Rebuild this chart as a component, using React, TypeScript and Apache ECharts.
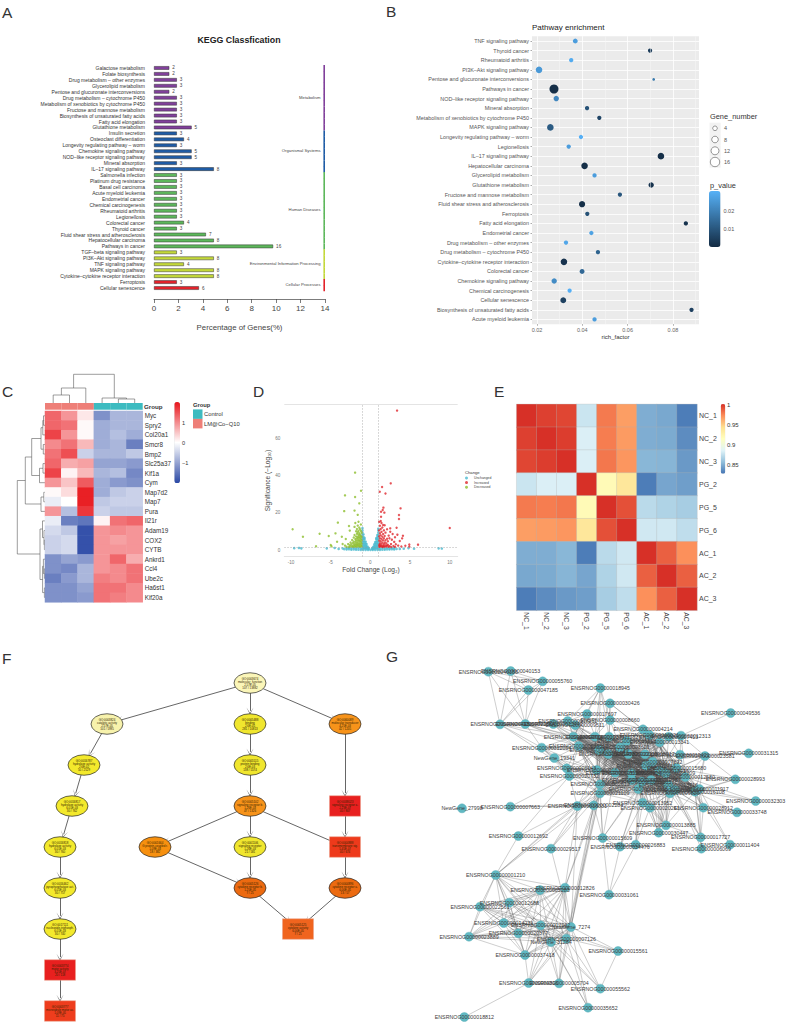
import React, { useEffect, useRef } from "react";
import * as echarts from "echarts";

const FONT = "Liberation Sans";

/* ---------- A: KEGG classification ---------- */
const keggPathways = ["Galactose metabolism","Folate biosynthesis","Drug metabolism – other enzymes","Glycerolipid metabolism","Pentose and glucuronate interconversions","Drug metabolism – cytochrome P450","Metabolism of xenobiotics by cytochrome P450","Fructose and mannose metabolism","Biosynthesis of unsaturated fatty acids","Fatty acid elongation","Glutathione metabolism","Insulin secretion","Osteoclast differentiation","Longevity regulating pathway – worm","Chemokine signaling pathway","NOD–like receptor signaling pathway","Mineral absorption","IL–17 signaling pathway","Salmonella infection","Platinum drug resistance","Basal cell carcinoma","Acute myeloid leukemia","Endometrial cancer","Chemical carcinogenesis","Rheumatoid arthritis","Legionellosis","Colorectal cancer","Thyroid cancer","Fluid shear stress and atherosclerosis","Hepatocellular carcinoma","Pathways in cancer","TGF–beta signaling pathway","PI3K–Akt signaling pathway","TNF signaling pathway","MAPK signaling pathway","Cytokine–cytokine receptor interaction","Ferroptosis","Cellular senescence"];
const keggPercent = [1.25,1.25,1.87,1.87,1.25,1.87,1.87,1.87,1.87,1.87,3.08,1.87,2.45,1.87,3.08,3.08,1.87,4.9,1.87,1.87,1.87,1.87,1.87,1.87,1.87,1.87,2.45,1.87,4.25,4.9,9.75,1.87,4.9,2.45,4.9,4.9,1.87,3.68];
const keggCounts = [2,2,3,3,2,3,3,3,3,3,5,3,4,3,5,5,3,8,3,3,3,3,3,3,3,3,4,3,7,8,16,3,8,4,8,8,3,6];
const keggGroupNames = ["Metabolism","Organismal Systems","Human Diseases","Environmental Information Processing","Cellular Processes"];
const keggGroupSizes = [11,7,13,5,2];
const keggGroupColors = ["#81409B","#1F5CA6","#5DB75B","#C3D83A","#E2222B"];
const keggGroupOf: number[] = keggGroupSizes.flatMap((n, g) => Array(n).fill(g));

/* ---------- B: pathway enrichment ---------- */
const enrichPathways = ["TNF signaling pathway","Thyroid cancer","Rheumatoid arthritis","PI3K–Akt signaling pathway","Pentose and glucuronate interconversions","Pathways in cancer","NOD–like receptor signaling pathway","Mineral absorption","Metabolism of xenobiotics by cytochrome P450","MAPK signaling pathway","Longevity regulating pathway – worm","Legionellosis","IL–17 signaling pathway","Hepatocellular carcinoma","Glycerolipid metabolism","Glutathione metabolism","Fructose and mannose metabolism","Fluid shear stress and atherosclerosis","Ferroptosis","Fatty acid elongation","Endometrial cancer","Drug metabolism – other enzymes","Drug metabolism – cytochrome P450","Cytokine–cytokine receptor interaction","Colorectal cancer","Chemokine signaling pathway","Chemical carcinogenesis","Cellular senescence","Biosynthesis of unsaturated fatty acids","Acute myeloid leukemia"];
const enrichFactor = [.0369,.0699,.0351,.0209,.0715,.0275,.0285,.0421,.0475,.0259,.0394,.034,.0747,.041,.0454,.0704,.0566,.0399,.0422,.0857,.044,.0328,.0469,.0319,.0399,.0276,.0344,.0316,.0882,.0454];
const enrichP = [.026,.004,.029,.025,.018,.001,.021,.009,.006,.011,.03,.026,.001,.001,.026,.002,.01,.001,.009,.002,.027,.028,.013,.002,.014,.022,.03,.005,.005,.026];
const enrichGenes = [4,3,3,8,2,16,5,3,3,8,3,3,8,8,3,5,3,7,3,3,3,3,3,8,4,5,3,6,3,3];
const geneLegend = [4,8,12,16];

/* ---------- C: expression heatmap ---------- */
const heatGenes = ["Myc","Spry2","Col20a1","Smcr8","Bmp2","Slc25a37","Kif1a","Cym","Map7d2","Map7","Pura","Il21r","Adam19","COX2","CYTB","Ankrd1","Ccl4","Ube2c","Ha6st1","Kif20a"];
const heatValues = [
  [1.3,.9,.2,-1.2,-.8,-.8],[1.3,1.2,.05,-.9,-.8,-.8],[1.6,.9,.05,-.9,-.7,-.9],[1,1.2,.6,-.9,-.8,-1.4],
  [1.2,1.5,-.5,-.8,-.8,-.6],[1.3,.7,.8,-1,-1,-1.1],[1.6,.1,.6,-.8,-.7,-1.3],[.9,.5,1.4,-.9,-1.1,-1.2],
  [.05,.3,1.9,-.9,-.6,-.5],[-.2,0,1.9,-.6,-.5,-.5],[.9,-.7,1.7,-.5,-.6,-.6],[-.2,-1.4,-1.5,.1,1.2,1.3],
  [-.4,-.6,-1.9,.9,1,.9],[-.5,-.4,-1.9,.9,.8,.9],[-.5,-.4,-1.9,.9,.9,.9],[-1.2,-1,-1.1,.9,1.3,.7],
  [-1.2,-1.3,-.8,.9,1,1.2],[-1.4,-1.1,-.8,1.1,1,1.2],[-1.2,-1.2,-1,1.2,1.2,1],[-1.2,-1.2,-1.1,1.2,1.1,1],
];
const heatSamples = ["S1","S2","S3","S4","S5","S6"];
const heatGroupNames = ["LM@Co−Q10","Control"];
const heatSampleGroup = [0,0,0,1,1,1];
const heatGroupColors = ["#EE7F78","#3DBBC0"];

/* ---------- D: volcano ---------- */
const volcanoDecreased = [[-1.93,41.8],[-1.18,32],[-3.2,29.5],[-1.93,28.6],[-1.4,25.2],[-3.3,21],[-2,21.3],[-1.6,19],[-4.1,14.8],[-9.8,11.2],[-8.5,7.2],[-6.4,8.8],[-5.25,7.6],[-4.4,9],[-4.2,4.5],[-6.85,2],[-5,2.7],[-4.9,2],[-3.6,7.2],[-2.6,10.5],[-2.7,13],[-3.1,6],[-3.5,3.3],[-3.2,2.4],[-3,1.8],[-2.8,3.2],[-2.7,1.6],[-2.6,2.6],[-2.5,4.1],[-2.5,1.9],[-2.4,3.1],[-2.3,5.4],[-2.3,2.2],[-2.2,1.7],[-2.2,3.8],[-2.1,6.8],[-2.1,4.6],[-2.1,2.6],[-2,12.5],[-2,8.1],[-2,3.3],[-2,1.9],[-1.9,14.6],[-1.9,5.9],[-1.9,4.2],[-1.9,2.3],[-1.8,10.1],[-1.8,7.3],[-1.8,5.1],[-1.8,3.1],[-1.8,1.8],[-1.7,11.4],[-1.7,8.8],[-1.7,6.2],[-1.7,4.1],[-1.7,2.5],[-1.6,13.2],[-1.6,9.6],[-1.6,7.1],[-1.6,5.3],[-1.6,3.4],[-1.6,1.9],[-1.5,15.3],[-1.5,10.4],[-1.5,8.2],[-1.5,6.4],[-1.5,4.6],[-1.5,2.8],[-1.4,12.1],[-1.4,9.1],[-1.4,7.3],[-1.4,5.5],[-1.4,3.7],[-1.4,2.1],[-1.3,11.2],[-1.3,8.3],[-1.3,6.6],[-1.3,4.8],[-1.3,3.1],[-1.3,1.7],[-1.2,13.8],[-1.2,10.2],[-1.2,7.6],[-1.2,5.9],[-1.2,4.2],[-1.2,2.5],[-1.1,9.3],[-1.1,7],[-1.1,5.2],[-1.1,3.5],[-1.1,2]];
const volcanoIncreased = [[3.36,75.3],[1.47,34],[2.56,36],[1.18,31.5],[1.9,30.5],[3.8,22.5],[1.64,22.9],[1.55,21.6],[1.76,20.2],[1.34,20.7],[3.6,18.9],[3.6,16.8],[1.34,18],[1.3,15.7],[10,11.9],[3.3,12],[2.5,11.7],[1.6,13.5],[4.9,3],[6,2.9],[4.4,2.3],[4.9,1.9],[4,6.3],[4.1,7.7],[3.7,4.9],[3.4,8.3],[3.1,6.9],[3,4.4],[2.8,8.7],[2.7,5.6],[2.6,3.2],[2.5,9.9],[2.4,6.4],[2.4,2.1],[2.3,7.8],[2.2,4.7],[2.2,2.8],[2.1,11.2],[2.1,6.1],[2,3.6],[2,1.9],[1.9,9.4],[1.9,5.3],[1.9,2.5],[1.8,13.4],[1.8,7.6],[1.8,4.1],[1.8,1.8],[1.7,10.6],[1.7,6.4],[1.7,3.2],[1.6,8.6],[1.6,5.2],[1.6,2.3],[1.5,12.2],[1.5,7.2],[1.5,4],[1.5,1.7],[1.4,14.6],[1.4,9.8],[1.4,5.9],[1.4,3.1],[1.3,11.4],[1.3,7.9],[1.3,4.7],[1.3,2.2],[1.2,13.1],[1.2,9],[1.2,6.4],[1.2,3.7],[1.2,1.8],[1.1,15.2],[1.1,10.6],[1.1,7.4],[1.1,5.1],[1.1,2.8],[2.9,2.2],[3.2,3.1],[3.5,2.4],[3.9,1.9],[2.3,1.7],[2.6,1.6],[3.1,1.7],[1.7,2],[2.1,2.4],[1.4,2],[1.2,2.7],[1.1,1.9],[1.6,1.6]];
const volcanoUnchanged = [[-9.6,1],[-9,1.1],[-8.7,.9],[9,.8],[8.6,.9],[-5.5,.9],[4.8,1],[5.5,.7],[3.7,.6],[4.2,.7],[-4,.6],[-3.5,.9],[-4.5,1.1],[-3.3,.5],[-3,.3],[-3,1],[-2.7,.4],[-2.7,1.1],[-2.4,.2],[-2.4,.9],[-2.1,.3],[-2.1,1.1],[-1.8,.2],[-1.8,.9],[-1.5,.2],[-1.5,1.1],[-1.2,.1],[-1.2,.8],[-.9,.1],[-.6,.1],[-.3,.1],[0,.1],[.3,.1],[.6,.1],[.9,.1],[1.2,.1],[1.2,.8],[1.5,.2],[1.5,1.1],[1.8,.2],[1.8,.9],[2.1,.3],[2.1,1.1],[2.4,.3],[2.4,.9],[2.7,.4],[2.7,1.1],[3,.3],[3,1],[3.3,.6],
  [-1,1],[-1,2.2],[-1,3.4],[-1,4.6],[-1,5.8],[-1,7],[-1,8.2],[-1,9.4],[-1,10.6],[-1,11.8],[-.87,1],[-.87,2.2],[-.87,3.4],[-.87,4.6],[-.87,5.8],[-.87,7],[-.87,8.4],[-.74,1],[-.74,2.2],[-.74,3.4],[-.74,4.6],[-.74,5.8],[-.74,6.6],[-.6,1],[-.6,2.2],[-.6,3.4],[-.6,4.5],[-.48,.9],[-.48,2],[-.48,3.2],[-.35,.8],[-.35,1.8],[-.22,.6],[-.22,1.1],
  [1,1],[1,2.2],[1,3.4],[1,4.6],[1,5.8],[1,7],[1,8.2],[1,9.4],[1,10.6],[1,11.5],[.87,1],[.87,2.2],[.87,3.4],[.87,4.6],[.87,5.8],[.87,7],[.87,8.1],[.74,1],[.74,2.2],[.74,3.4],[.74,4.6],[.74,5.8],[.74,6.4],[.6,1],[.6,2.2],[.6,3.4],[.6,4.3],[.48,.9],[.48,2],[.48,3],[.35,.8],[.35,1.7],[.22,.5],[.22,1]];
const volcanoLabels: [string, number, number][] = [["Ha6st1",-.1,36.7],["Col6",-1.45,17],["CYTB",-2.8,6.5],["TSTP",-3.6,-.5],["COX2",0,-1],["Kif1a",3.3,6.8],["Map7",3.5,-.5]];

/* ---------- E: correlation heatmap ---------- */
const corrSamples = ["NC_1","NC_2","NC_3","PG_2","PG_5","PG_6","AC_1","AC_2","AC_3"];
const corrValues = [
  [1,.995,.993,.876,.977,.965,.848,.846,.829],
  [.995,1,.996,.882,.976,.966,.848,.847,.835],
  [.993,.996,1,.882,.978,.968,.852,.851,.84],
  [.876,.882,.882,1,.918,.935,.829,.845,.842],
  [.977,.976,.978,.918,1,.99,.87,.866,.863],
  [.965,.966,.968,.935,.99,1,.878,.878,.872],
  [.848,.848,.852,.829,.87,.878,1,.985,.97],
  [.846,.847,.851,.845,.866,.878,.985,1,.985],
  [.829,.835,.84,.842,.863,.872,.97,.985,1],
];

/* ---------- F: GO DAG (column px, level, text, colour, shape) ---------- */
const goNodes: [number, number, string, string, number][] = [
  [250,0,"GO:0003674\nmolecular_function\n2.57E-05\n107 / 13882","#FBF6B8",0],
  [107,1,"GO:0003824\ncatalytic activity\n2.57E-05\n101 / 5985","#F7F2AC",0],
  [84,2,"GO:0016787\nhydrolase activity\n2.6E-02\n50 / 2529","#F3E92C",0],
  [72,3,"GO:0016817\nhydrolase activity\n6.01E-03\n30 / 762","#F3E92C",0],
  [60,4,"GO:0016818\nhydrolase activity\n6.01E-03\n30 / 760","#F3E92C",0],
  [60,5,"GO:0016462\npyrophosphatase act.\n6.01E-03\n30 / 757","#F3E92C",0],
  [60,6,"GO:0017111\nnucleoside-triphosph.\n6.01E-03\n30 / 740","#F3E92C",0],
  [60,7,"GO:0003774\nmotor activity\n3.25E-07\n20 / 118","#E8201F",1],
  [60,8,"GO:0003777\nmicrotubule motor ac.\n1.09E-05\n11 / 75","#EE3D1D",1],
  [250,1,"GO:0005488\nbinding\n2.6E-05\n281 / 10813","#F0E62E",0],
  [250,2,"GO:0005515\nprotein binding\n2.6E-03\n138 / 5574","#F0E62E",0],
  [250,3,"GO:0005102\nsignaling receptor b.\n1.26E-03\n47 / 1326","#F7931A",0],
  [250,4,"GO:0001106\nsignaling receptor\n1.26E-03\n21 / 581","#F0E62E",0],
  [250,5,"GO:0005126\ncytokine receptor b.\n1.25E-05\n7 / 25","#EC6A10",0],
  [155,4,"GO:0001664\nG protein-coupled r.\n1.09E-03\n18 / 382","#F7900F",0],
  [345,1,"GO:0060089\nmolecular transducer\n4.25E-03\n42 / 1205","#F7931A",0],
  [345,3,"GO:0038023\nsignaling receptor a.\n2.23E-07\n40 / 807","#E8201F",1],
  [345,4,"GO:0004888\ntransmembrane sig.\n5.45E-07\n40 / 674","#EE3A1B",1],
  [345,5,"GO:0004896\ncytokine receptor a.\n6.00E-05\n13 / 57","#EC6A10",0],
  [298,6,"GO:0005125\ncytokine activity\n6.00E-05\n7 / 25","#F0641E",1],
];
const goEdges = [[0,1],[1,2],[2,3],[3,4],[4,5],[5,6],[6,7],[7,8],[0,9],[9,10],[10,11],[11,12],[12,13],[0,15],[15,16],[16,17],[17,18],[11,17],[11,14],[14,13],[13,19],[18,19]];

/* ---------- G: interaction network (label, layout x, layout y) ---------- */
const netNodes: [string, number, number][] = [
  ["ENSRNOG00000040155",205,95],["ENSRNOG00000040153",272,93],["ENSRNOG00000055760",368,124],["ENSRNOG00000047185",325,150],["ENSRNOG00000018945",541,144],["ENSRNOG00000030426",570,190],["ENSRNOG00000017697",501,222],["ENSRNOG00000008660",570,240],["ENSRNOG00000049536",932,219],["ENSRNOG00000020415",240,253],
  ["ENSRNOG00000021364",316,252],["ENSRNOG00000013442",400,252],["ENSRNOG00000018211",443,243],["ENSRNOG00000009511",465,255],["ENSRNOG00000004214",669,268],["ENSRNOG00000016021",688,285],["ENSRNOG00000012313",783,287],["ENSRNOG00000007413",746,290],["ENSRNOG00000013341",719,307],["ENSRNOG00000010714",460,290],
  ["ENSRNOG00000019344",525,290],["ENSRNOG00000011132",567,290],["ENSRNOG00000015523",620,303],["ENSRNOG00000006512",476,318],["ENSRNOG00000012094",365,323],["ENSRNOG00000017219",537,330],["ENSRNOG00000003621",600,322],["ENSRNOG00000014782",565,342],["ENSRNOG00000022118",625,342],["ENSRNOG00000008917",675,343],
  ["ENSRNOG00000019421",780,344],["ENSRNOG00000023581",855,348],["ENSRNOG00000031315",986,340],["NewGene_19341",403,354],["ENSRNOG00000006143",440,385],["ENSRNOG00000012771",678,377],["ENSRNOG00000007892",698,365],["ENSRNOG00000015680",770,384],["ENSRNOG00000016321",530,390],["ENSRNOG00000011207",585,398],
  ["ENSRNOG00000009914",635,400],["ENSRNOG00000020732",448,408],["ENSRNOG00000018436",718,392],["ENSRNOG00000005209",737,400],["ENSRNOG00000012580",796,411],["ENSRNOG00000028993",946,418],["ENSRNOG00000002613",540,433],["ENSRNOG00000014428",635,420],["ENSRNOG00000019065",665,425],["ENSRNOG00000010987",693,420],
  ["ENSRNOG00000013716",745,436],["ENSRNOG00000021109",540,460],["ENSRNOG00000017355",655,447],["ENSRNOG00000006820",750,460],["ENSRNOG00000018844",765,450],["ENSRNOG00000016108",825,455],["ENSRNOG00000011917",838,447],["ENSRNOG00000032303",1007,483],["ENSRNOG00000013952",668,488],["ENSRNOG00000020261",690,503],
  ["ENSRNOG00000028912",850,503],["ENSRNOG00000033748",951,517],["NewGene_27998",126,505],["ENSRNOG00000007663",271,500],["ENSRNOG00000016031",472,498],["ENSRNOG00000002284",521,496],["ENSRNOG00000013885",738,556],["ENSRNOG00000030447",716,578],["ENSRNOG00000017727",842,592],["ENSRNOG00000012692",295,588],
  ["ENSRNOG00000015609",548,594],["ENSRNOG00000029517",393,626],["ENSRNOG00000034476",600,620],["ENSRNOG00000026883",647,614],["ENSRNOG00000006069",844,626],["ENSRNOG00000011404",930,614],["ENSRNOG00000001210",227,705],["ENSRNOG00000012826",435,743],["ENSRNOG00000005283",360,750],["ENSRNOG00000031061",567,764],
  ["ENSRNOG00000012688",268,788],["ENSRNOG00000022561",180,800],["ENSRNOG00000014231",251,849],["ENSRNOG00000017032",362,856],["NewGene_7274",453,861],["ENSRNOG00000020377",295,880],["ENSRNOG00000023889",147,890],["ENSRNOG00000007126",439,896],["NewGene_31284",393,906],["ENSRNOG00000015561",594,933],
  ["ENSRNOG00000037418",315,945],["ENSRNOG00000009816",326,1029],["ENSRNOG00000005704",417,1030],["ENSRNOG00000055562",541,1046],["ENSRNOG00000035652",504,1103],["ENSRNOG00000018812",133,1131],
];
/* node numbers below are 1-based positions in netNodes */
const netCliques = [
  [1,2,3,4,10,11],
  [20,21,22,24,26,27,28,29,30,39,40,41,47,48,49,50,53,36,37,38,43,44,45,51,54,55,56,57,52,23,16,19],
  [77,78,79,81,82,83,84,85,86,87,88,89,91],
];
const netStars: [number, number[]][] = [
  [5,[21,22,7,13,8,26,20]],[6,[8,22,16,21,15]],[7,[14,13,21,24,20]],[8,[15,22,21,23,27]],[9,[17]],[10,[12,13,25,24,14,20,35]],[11,[12,13,25,24,20,27,28]],[12,[13,14,20,24,26,29,39]],[13,[14,20,21,24,26,28,40]],[14,[20,21,24,27,28,41]],
  [15,[16,18,19,23,22,27,30,37]],[16,[18,19,23,29,30,38]],[17,[18,19,31,32,30,43,45]],[18,[19,31,23,29,37,44]],[25,[24,26,28,34,35,42,20,39,47]],[34,[35,42,24,26,39,47]],[35,[42,24,39,47,52,26,40]],[42,[24,39,47,52,26,40,65,70]],
  [31,[32,33,37,38,45,55,30,54]],[32,[33,45,46,56,57,37,38,44]],[46,[57,45,56,38]],[58,[56,45,57]],[62,[61,56]],[61,[56,57,55,54,51,45,38,69]],[64,[65,66,42]],[65,[52,47,39,42,66,70,85,77,72]],[66,[52,47,39,40,85,71,88,78]],
  [59,[47,49,53,50,52,54,60,41,67]],[60,[49,53,50,51,54,55,67,68]],[67,[49,50,51,53,54,55,56,44,68,69]],[68,[49,50,51,53,54,44,43]],[69,[55,56,57,54,51]],[71,[47,49,52,53,40,80,73]],[72,[52,47,65,85]],[73,[53,49,59,80,74]],[74,[53,49,59,60,80]],[75,[56,55,69]],[76,[57,56]],
  [77,[70,52,47]],[85,[92,93,94,95,90,52,47,66]],[88,[92,93,94,95,90,52,66]],[89,[92,93,94,95,91]],[84,[92,93,95,94,90]],[78,[92,93,52,66,65]],[90,[94]],[96,[92]],[92,[93]],[91,[92]],
];

const linkKeys = new Set<string>();
const netLinks: { source: number; target: number }[] = [];
const addLink = (a: number, b: number) => {
  const k = a < b ? a + "-" + b : b + "-" + a;
  if (a === b || linkKeys.has(k)) return;
  linkKeys.add(k);
  netLinks.push({ source: a - 1, target: b - 1 });
};
netCliques.forEach((c) => c.forEach((a, i) => c.slice(i + 1).forEach((b) => addLink(a, b))));
netStars.forEach(([h, list]) => list.forEach((b) => addLink(h, b)));

/* ---------- drawing helpers ---------- */
const txt = (text: string, x: number, y: number, fontSize: number, extra: any = {}) => ({
  type: "text", x, y, silent: true,
  style: { text, fontSize, fontFamily: FONT, fill: extra.fill || "#333", fontWeight: extra.fontWeight || "normal", align: extra.align || "left", verticalAlign: "middle" },
});
const poly = (pts: number[][]) => ({ type: "polyline", silent: true, shape: { points: pts }, style: { stroke: "#5a5a5a", lineWidth: 0.6, fill: "none" } });
const rowBracket = (x: number, y1: number, r1: number, y2: number, r2: number) => poly([[r1, y1], [x, y1], [x, y2], [r2, y2]]);
const colBracket = (y: number, x1: number, b1: number, x2: number, b2: number) => poly([[x1, b1], [x1, y], [x2, y], [x2, b2]]);

const rowDendro = [
  rowBracket(43.5, 415.8, 45, 425.3, 45), rowBracket(42.8, 420.5, 43.5, 434.9, 45), rowBracket(43.3, 444.5, 45, 454, 45), rowBracket(41, 427.7, 42.8, 449.2, 43.3),
  rowBracket(43, 463.6, 45, 473.1, 45), rowBracket(39.5, 468.3, 43, 482.7, 45), rowBracket(31.7, 438.5, 41, 475.5, 39.5),
  rowBracket(43.8, 492.3, 45, 501.8, 45), rowBracket(41, 497, 43.8, 511.4, 45), rowBracket(25.3, 457, 31.7, 504, 41),
  rowBracket(44.4, 540.1, 45, 549.6, 45), rowBracket(44, 530.5, 45, 544.8, 44.4), rowBracket(42.5, 520.9, 45, 537.6, 44),
  rowBracket(44.4, 568.8, 45, 578.3, 45), rowBracket(43.4, 559.2, 45, 573.5, 44.4), rowBracket(44.4, 587.9, 45, 597.4, 45), rowBracket(42.6, 566.3, 43.4, 592.6, 44.4),
  rowBracket(40, 529, 42.5, 579.5, 42.6), rowBracket(17.3, 480.5, 25.3, 554, 40),
];
const colDendro = [
  colBracket(395, 53.2, 403, 69.5, 403), colBracket(388, 61.4, 395, 85.8, 403),
  colBracket(399, 118.4, 403, 134.7, 403), colBracket(398, 102.1, 403, 126.5, 399), colBracket(374.3, 73.6, 388, 114.3, 398),
];

const arrowPath = "path://M0,10 L5,0 L10,10 L5,2 Z";
const ellipsePath = "path://M0,10 A16,10 0 1 1 32,10 A16,10 0 1 1 0,10 Z";

const option: any = {
  animation: false,
  textStyle: { fontFamily: FONT },
  grid: [
    { left: 154, top: 65, width: 171, height: 226 },
    { left: 532, top: 36.2, width: 167, height: 288, show: true, backgroundColor: "#EBEBEB", borderWidth: 0 },
    { left: 45, top: 411, width: 97.7, height: 191.3 },
    { left: 284.3, top: 404.3, width: 173.4, height: 152.4 },
    { left: 516.7, top: 404.3, width: 180.3, height: 206 },
    { left: 0, top: 683, width: 380, height: 328 },
    { left: 420, top: 640, width: 370, height: 390 },
    { left: 45, top: 403, width: 97.7, height: 6.7 },
  ],
  xAxis: [
    { gridIndex: 0, type: "value", min: 0, max: 14, interval: 2, offset: 8, splitLine: { show: false },
      axisLine: { show: true, lineStyle: { color: "#444", width: 0.7 } }, axisTick: { show: true, length: 4, lineStyle: { color: "#444", width: 0.7 } },
      axisLabel: { fontSize: 8, color: "#444", margin: 5 },
      name: "Percentage of Genes(%)", nameLocation: "middle", nameGap: 24, nameTextStyle: { fontSize: 7.8, color: "#444" } },
    { gridIndex: 1, type: "value", min: 0.0178, max: 0.0915, axisLine: { show: false },
      axisTick: { show: true, length: 1.5, lineStyle: { color: "#555", width: 0.5 }, customValues: [0.02, 0.04, 0.06, 0.08] },
      axisLabel: { fontSize: 5.5, color: "#666", margin: 3, customValues: [0.02, 0.04, 0.06, 0.08], formatter: (v: number) => v.toFixed(2) },
      splitLine: { show: true, lineStyle: { color: "#fff", width: 0.8 } },
      name: "rich_factor", nameLocation: "middle", nameGap: 10, nameTextStyle: { fontSize: 6, color: "#333" } },
    { gridIndex: 2, type: "category", data: heatSamples, show: false },
    { gridIndex: 3, type: "value", min: -10.85, max: 11, axisLine: { onZero: false, show: true, lineStyle: { color: "#ddd", width: 0.8 } },
      axisTick: { show: false, customValues: [-10, -5, 0, 5, 10] }, splitLine: { show: false },
      axisLabel: { fontSize: 4.6, color: "#777", margin: 3, customValues: [-10, -5, 0, 5, 10] },
      name: "Fold Change (Log₂)", nameLocation: "middle", nameGap: 9, nameTextStyle: { fontSize: 6.6, color: "#444" } },
    { gridIndex: 4, type: "category", data: corrSamples, axisLine: { show: false }, axisTick: { show: false },
      axisLabel: { interval: 0, rotate: -90, fontSize: 6.8, color: "#444", margin: 2 } },
    { gridIndex: 5, type: "value", min: 0, max: 380, show: false },
    { gridIndex: 6, type: "value", min: 0, max: 1110, show: false },
    { gridIndex: 7, type: "category", data: heatSamples, show: false },
  ],
  yAxis: [
    { gridIndex: 0, type: "category", inverse: true, data: keggPathways, axisLine: { show: false }, axisTick: { show: false },
      axisLabel: { interval: 0, fontSize: 5, color: "#333", margin: 9 } },
    { gridIndex: 1, type: "category", inverse: true, data: enrichPathways, axisLine: { show: false },
      axisTick: { show: true, alignWithLabel: true, length: 1.5, lineStyle: { color: "#555", width: 0.5 } },
      axisLabel: { interval: 0, fontSize: 5.4, color: "#555", margin: 3 },
      splitLine: { show: true, interval: 0, alignWithLabel: true, lineStyle: { color: "#fff", width: 0.8 } } },
    { gridIndex: 2, type: "category", inverse: true, data: heatGenes, position: "right", axisLine: { show: false }, axisTick: { show: false },
      axisLabel: { interval: 0, fontSize: 6.3, color: "#333", margin: 2 } },
    { gridIndex: 3, type: "value", min: -3.6, max: 78.7, axisLine: { show: false }, axisTick: { show: false, customValues: [0, 20, 40, 60] }, splitLine: { show: false },
      axisLabel: { fontSize: 4.6, color: "#777", margin: 4, customValues: [0, 20, 40, 60] },
      name: "Significance (−Log₁₀)", nameLocation: "middle", nameGap: 11, nameTextStyle: { fontSize: 6.6, color: "#444" } },
    { gridIndex: 4, type: "category", inverse: true, data: corrSamples, position: "right", axisLine: { show: false }, axisTick: { show: false },
      axisLabel: { interval: 0, fontSize: 7, color: "#444", margin: 2 } },
    { gridIndex: 5, type: "value", inverse: true, min: 0, max: 8, show: false },
    { gridIndex: 6, type: "value", inverse: true, min: 0, max: 1170, show: false },
    { gridIndex: 7, type: "value", min: 0, max: 1, show: false },
  ],
  visualMap: [
    { type: "continuous", seriesIndex: 3, dimension: 2, min: 0.0002, max: 0.0304, left: 709, top: 191, itemWidth: 11.5, itemHeight: 56, padding: 0, calculable: false, inRange: { color: ["#132B43", "#56B1F7"] } },
    { type: "continuous", seriesIndex: 4, dimension: 2, min: -2, max: 2, left: 174.3, top: 402, itemWidth: 5.7, itemHeight: 81, padding: 0, calculable: false, inRange: { color: ["#2A48A5", "#ffffff", "#E8141A"] } },
    { type: "continuous", seriesIndex: 10, dimension: 2, min: 0.826, max: 1, left: 720.7, top: 404, itemWidth: 4.6, itemHeight: 69.7, padding: 0, calculable: false, inRange: { color: ["#4575B4", "#91BFDB", "#E0F3F8", "#FFFFBF", "#FEE090", "#FC8D59", "#D73027"] } },
  ],
  legend: { data: ["Unchanged", "Increased", "Decreased"], orient: "vertical", left: 465, top: 476.5, padding: 0, itemWidth: 3, itemHeight: 3, itemGap: 1.6, icon: "circle", textStyle: { fontSize: 3.4, color: "#444", padding: [0, 0, 0, 1] }, selectedMode: false },
  series: [
    /* 0 */ { type: "bar", xAxisIndex: 0, yAxisIndex: 0, barWidth: 3.6, z: 3,
      data: keggPercent.map((v, i) => ({ value: v, itemStyle: { color: keggGroupColors[keggGroupOf[i]], borderColor: "#333", borderWidth: 0.5 } })),
      label: { show: true, position: "right", distance: 3, fontSize: 4.6, color: "#444", formatter: (p: any) => String(keggCounts[p.dataIndex]) } },
    /* 1 */ { type: "custom", xAxisIndex: 0, yAxisIndex: 0, encode: { x: 0, y: 1 }, silent: true, z: 2,
      data: keggPathways.map((_, i) => [14, i]),
      renderItem: (params: any, api: any) => {
        const p = api.coord([14, params.dataIndex]);
        const h = api.size([0, 1])[1];
        return { type: "rect", shape: { x: p[0] - 1.6, y: p[1] - h / 2, width: 1.6, height: h + 0.2 }, style: { fill: keggGroupColors[keggGroupOf[params.dataIndex]] } };
      } },
    /* 2 */ { type: "scatter", xAxisIndex: 1, yAxisIndex: 1, data: [], z: 1, silent: true,
      markLine: { silent: true, symbol: ["none", "none"], label: { show: false }, lineStyle: { color: "#F6F6F6", width: 0.5, type: "solid" }, data: [{ xAxis: 0.03 }, { xAxis: 0.05 }, { xAxis: 0.07 }, { xAxis: 0.09 }] } },
    /* 3 */ { type: "scatter", xAxisIndex: 1, yAxisIndex: 1, encode: { x: 0, y: 1 }, z: 3,
      data: enrichFactor.map((x, i) => [x, i, enrichP[i], enrichGenes[i]]),
      symbolSize: (v: number[]) => ({ 2: 2.7, 3: 4.3, 4: 4.9, 5: 5.4, 6: 5.9, 7: 6.2, 8: 6.6, 16: 9 } as any)[v[3]],
      itemStyle: { opacity: 1 } },
    /* 4 */ { type: "heatmap", xAxisIndex: 2, yAxisIndex: 2,
      data: heatValues.flatMap((row, r) => row.map((v, c) => [c, r, v])) },
    /* 5 */ { type: "bar", xAxisIndex: 7, yAxisIndex: 7, barCategoryGap: 0, silent: true,
      data: heatSampleGroup.map((g) => ({ value: 1, itemStyle: { color: heatGroupColors[g] } })) },
    /* 6 */ { type: "scatter", name: "Unchanged", xAxisIndex: 3, yAxisIndex: 3, symbolSize: 2.6, z: 2, itemStyle: { color: "#4BBAD0" }, data: volcanoUnchanged,
      markLine: { silent: true, symbol: ["none", "none"], label: { show: false }, lineStyle: { color: "#999", width: 0.5, type: [1.5, 1.5] },
        data: [{ xAxis: -1 }, { xAxis: 1 }, { yAxis: 1.3 }, { yAxis: 78.7, lineStyle: { color: "#ddd", width: 0.8, type: "solid" } }] } },
    /* 7 */ { type: "scatter", name: "Increased", xAxisIndex: 3, yAxisIndex: 3, symbolSize: 2.4, z: 3, itemStyle: { color: "#E0282E" }, data: volcanoIncreased },
    /* 8 */ { type: "scatter", name: "Decreased", xAxisIndex: 3, yAxisIndex: 3, symbolSize: 2.4, z: 3, itemStyle: { color: "#8DBE2D" }, data: volcanoDecreased },
    /* 9 */ { type: "scatter", xAxisIndex: 3, yAxisIndex: 3, symbol: "none", silent: true, z: 4,
      data: volcanoLabels.map(([name, x, y]) => ({ name, value: [x, y] })),
      label: { show: true, position: "inside", formatter: "{b}", fontSize: 6, color: "#BDBDBD", fontFamily: "DejaVu Sans" } },
    /* 10 */ { type: "heatmap", xAxisIndex: 4, yAxisIndex: 4, itemStyle: { borderColor: "#B5B5B5", borderWidth: 0.3 },
      data: corrValues.flatMap((row, r) => row.map((v, c) => [c, r, v])) },
    /* 11 */ { type: "graph", coordinateSystem: "cartesian2d", xAxisIndex: 5, yAxisIndex: 5, layout: "none", silent: true,
      edgeSymbol: ["none", arrowPath], edgeSymbolSize: 7, lineStyle: { color: "#555", width: 0.9, opacity: 1, curveness: 0 },
      data: goNodes.map(([x, lvl, text, color, rect], i) => ({
        name: "n" + i, value: [x, lvl], text,
        symbol: rect ? "rect" : ellipsePath, symbolSize: rect ? [31, 20.5] : [32, 20.5],
        itemStyle: { color, borderColor: rect ? "#E9A08A" : "#2a2a2a", borderWidth: rect ? 0.5 : 0.7 },
        label: { show: true, position: "inside", formatter: text, fontSize: 2.9, lineHeight: 3.2, color: "#332200" },
      })),
      links: goEdges.map(([s, t]) => ({ source: s, target: t })) },
    /* 12 */ { type: "graph", coordinateSystem: "cartesian2d", xAxisIndex: 6, yAxisIndex: 6, layout: "none", silent: true,
      symbolSize: 9, itemStyle: { color: "#61B9C3", borderColor: "#52A8B2", borderWidth: 0.4 },
      lineStyle: { color: "#555", width: 0.45, opacity: 0.65, curveness: 0 },
      label: { show: true, position: "inside", formatter: "{b}", fontSize: 5.3, color: "#3c3c3c" },
      data: netNodes.map(([name, x, y]) => ({ name, value: [x, y] })),
      links: netLinks },
  ],
  graphic: [
    txt("A", 2, 12, 15.5), txt("B", 386, 11, 15.5), txt("C", 2, 391, 15.5), txt("D", 253, 391, 15.5), txt("E", 494, 391, 15.5), txt("F", 2, 658, 15.5), txt("G", 386, 656, 15.5),
    txt("KEGG Classfication", 239, 39.5, 8.8, { fontWeight: "bold", align: "center", fill: "#222" }),
    ...keggGroupNames.map((n, i) => txt(n, 320.5, [97, 150, 209.5, 263, 284][i], 4.2, { align: "right", fill: "#444" })),
    txt("Pathway enrichment", 532, 27.5, 8, { fill: "#222" }),
    txt("Gene_number", 710, 116.5, 7.4), txt("p_value", 710, 185, 7.4),
    ...geneLegend.flatMap((g, i) => {
      const y = [128.3, 139.5, 150.8, 162][i];
      return [
        { type: "rect", silent: true, shape: { x: 709.5, y: y - 5.6, width: 11.2, height: 11.2 }, style: { fill: "#F2F2F2" } },
        { type: "circle", silent: true, shape: { cx: 715, cy: y, r: [2.3, 3.3, 4, 4.7][i] }, style: { fill: "#fff", stroke: "#333", lineWidth: 0.5 } },
        txt(String(g), 724, y, 5.5, { fill: "#555" }),
      ];
    }),
    txt("0.02", 723.5, 210.5, 5.5, { fill: "#555" }), txt("0.01", 723.5, 229, 5.5, { fill: "#555" }),
    ...rowDendro, ...colDendro,
    txt("Group", 144, 406.5, 6.2, { fontWeight: "bold" }),
    txt("1", 182, 422.7, 5.6), txt("0", 182, 443.3, 5.6), txt("−1", 182, 463, 5.6),
    txt("Group", 193, 405, 5.8, { fontWeight: "bold" }),
    { type: "rect", silent: true, shape: { x: 193, y: 409.4, width: 9.5, height: 9.5 }, style: { fill: heatGroupColors[1] } },
    { type: "rect", silent: true, shape: { x: 193, y: 418.9, width: 9.5, height: 9.5 }, style: { fill: heatGroupColors[0] } },
    txt(heatGroupNames[1], 204, 414, 5.8), txt(heatGroupNames[0], 204, 423.7, 5.8),
    txt("Change", 465, 472, 4.2, { fill: "#333" }),
    txt("1", 727, 405, 6), txt("0.95", 727, 424.7, 6), txt("0.9", 727, 444.7, 6), txt("0.85", 727, 464.7, 6),
  ],
};

export default function App() {
  const ref = useRef<HTMLDivElement>(null);
  useEffect(() => {
    const chart = echarts.init(ref.current as HTMLDivElement, undefined, { renderer: "svg" });
    chart.setOption(option);
    return () => chart.dispose();
  }, []);
  return <div ref={ref} style={{ position: "absolute", left: 0, top: 0, width: 790, height: 1030, background: "#fff" }} />;
}
